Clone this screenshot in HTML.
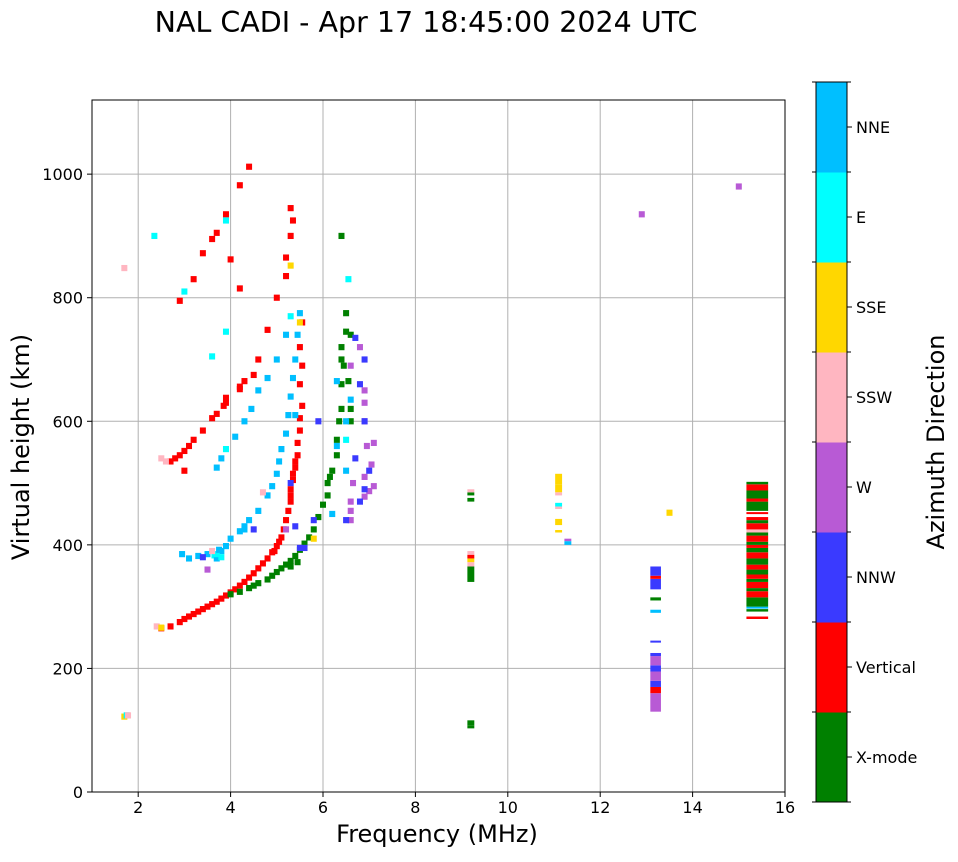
<!DOCTYPE html>
<html><head><meta charset="utf-8"><style>
body{margin:0;background:#fff;font-family:"Liberation Sans","DejaVu Sans",sans-serif;}
svg text{font-family:"DejaVu Sans","Liberation Sans",sans-serif;}
</style></head><body>
<svg id="c" width="958" height="857" viewBox="0 0 958 857" xmlns="http://www.w3.org/2000/svg">
<text x="426" y="32" font-size="28.5" text-anchor="middle">NAL CADI - Apr 17 18:45:00 2024 UTC</text>
<g id="grid"></g><g id="marks"></g><g id="axes"></g><g id="cbar"></g>
<text x="437" y="842" font-size="24" text-anchor="middle">Frequency (MHz)</text>
<text transform="translate(29,447) rotate(-90)" font-size="24" text-anchor="middle">Virtual height (km)</text>
<text transform="translate(944,442) rotate(-90)" font-size="24" text-anchor="middle">Azimuth Direction</text>
</svg>
<script>
const xTicks=[2,4,6,8,10,12,14,16];
const yTicks=[0,200,400,600,800,1000];
const categories=["X-mode","Vertical","NNW","W","SSW","SSE","E","NNE"];
const catColors=["#008000","#ff0000","#3a3aff","#b85ad5","#ffb6c1","#ffd700","#00ffff","#00bfff"];
// traces: [freq, height, colorIndex]
const traceO=[[2.5,265,1],[2.7,268,1],[2.9,275,1],[3.0,280,1],[3.1,284,1],[3.2,288,1],[3.3,292,1],[3.4,296,1],[3.5,300,1],[3.6,304,1],[3.7,308,1],[3.8,313,1],[3.9,318,1],[4.0,323,1],[4.1,328,1],[4.2,334,1],[4.3,340,1],[4.4,347,1],[4.5,354,1],[4.6,362,1],[4.7,370,1],[4.8,378,1],[4.9,388,1],[5.0,398,1],[5.1,412,1],[5.15,425,1],[5.2,440,1],[5.25,455,1],[5.3,470,1],[5.3,490,1],[5.35,505,1],[5.4,525,1],[5.45,545,1],[5.45,565,1],[5.5,585,1],[5.5,605,1],[5.55,625,1],[5.5,660,1],[5.55,690,1],[5.5,720,1],[5.55,760,1],[5.3,480,1],[5.35,515,1],[5.4,535,1],[4.95,390,1],[5.05,405,1]];
const traceX=[[4.0,320,0],[4.2,324,0],[4.4,330,0],[4.5,334,0],[4.6,338,0],[4.8,344,0],[4.9,350,0],[5.0,356,0],[5.1,362,0],[5.2,368,0],[5.3,374,0],[5.4,382,0],[5.5,392,0],[5.6,402,0],[5.7,412,0],[5.8,425,0],[5.9,445,0],[6.0,465,0],[6.1,480,0],[6.1,500,0],[6.2,520,0],[6.3,545,0],[6.3,570,0],[6.35,600,0],[6.4,620,0],[6.4,660,0],[6.45,690,0],[6.4,720,0],[6.5,745,0],[6.5,775,0],[6.6,740,0],[6.55,665,0],[6.6,620,0],[6.6,600,0],[6.4,900,0],[5.3,365,0],[5.45,372,0],[6.15,510,0],[6.4,700,0]];
const traceO2=[[2.7,535,1],[2.8,540,1],[2.9,545,1],[3.0,552,1],[3.1,560,1],[3.2,570,1],[3.4,585,1],[3.6,605,1],[3.7,612,1],[3.85,625,1],[3.9,638,1],[4.2,652,1],[4.3,665,1],[4.5,675,1],[4.6,700,1],[4.8,748,1],[5.0,800,1],[5.2,835,1],[5.2,865,1],[5.3,900,1],[5.35,925,1],[5.3,945,1],[2.9,795,1],[3.2,830,1],[3.4,872,1],[3.6,895,1],[3.7,905,1],[3.9,935,1],[4.2,982,1],[4.4,1012,1],[4.2,815,1],[4.0,862,1],[3.0,520,1],[3.9,630,1],[4.2,656,1]];
const traceC=[[2.95,385,7],[3.1,378,7],[3.3,382,7],[3.5,385,7],[3.65,383,6],[3.7,378,7],[3.8,390,7],[3.9,398,7],[4.0,410,7],[4.2,422,7],[4.3,430,7],[4.4,440,7],[4.6,455,7],[4.8,480,7],[4.9,495,7],[5.0,515,7],[5.05,535,7],[5.1,555,7],[5.2,580,7],[5.25,610,7],[5.3,640,7],[5.35,670,7],[5.4,700,7],[5.45,740,7],[5.5,775,7],[3.7,525,7],[3.8,540,7],[3.9,555,6],[4.1,575,7],[4.3,600,7],[4.45,620,7],[4.6,650,7],[4.8,670,7],[5.0,700,7],[5.2,740,7],[5.3,770,6],[3.9,745,6],[3.6,705,6],[3.9,925,6],[3.0,810,6],[2.35,900,6],[6.55,830,6],[6.5,570,6],[6.3,560,7],[6.5,600,7],[6.3,665,7],[6.6,635,7],[6.2,450,7],[6.5,520,7],[5.4,610,7],[3.8,380,6],[3.7,385,6],[3.75,392,7],[4.3,425,7]];
const traceW=[[6.6,440,3],[6.6,455,3],[6.6,470,3],[6.9,478,3],[7.0,487,3],[7.1,495,3],[6.9,510,3],[7.05,530,3],[6.95,560,3],[7.1,565,3],[6.9,600,3],[6.9,630,3],[6.9,650,3],[6.6,690,3],[6.8,720,3],[6.65,500,3],[5.2,425,3],[3.5,360,3]];
const traceB=[[6.5,440,2],[6.8,470,2],[6.9,490,2],[6.7,540,2],[6.9,600,2],[7.0,520,2],[6.8,660,2],[6.9,700,2],[5.4,430,2],[5.5,395,2],[5.3,500,2],[5.9,600,2],[5.8,440,2],[5.6,395,2],[6.7,735,2],[4.5,425,2],[3.4,380,2]];
const traceMisc=[[1.7,122,5],[1.75,124,6],[1.78,124,4],[1.7,848,4],[2.5,540,4],[2.6,535,4],[2.4,268,4],[2.5,266,5],[5.3,852,5],[5.5,760,5],[5.8,410,5],[3.6,390,4],[4.7,485,4],[12.9,935,3],[15.0,980,3],[13.5,452,5]];
// columns: [freq, h0, h1, colorIndex]
const columns=[[9.2,103,108,0],[9.2,108,116,0],[9.2,340,365,0],[9.2,365,372,4],[9.2,372,378,5],[9.2,378,384,1],[9.2,384,390,4],[9.2,470,476,0],[9.2,480,485,0],[9.2,485,490,4],[11.1,498,515,5],[11.1,485,498,5],[11.1,480,485,4],[11.1,462,468,6],[11.1,458,462,4],[11.1,432,442,5],[11.1,420,424,5],[11.3,400,406,7],[11.3,406,410,3],[13.2,130,160,3],[13.2,160,170,1],[13.2,170,180,2],[13.2,180,195,3],[13.2,195,205,2],[13.2,205,220,3],[13.2,220,225,2],[13.2,242,245,2],[13.2,290,295,7],[13.2,310,315,0],[13.2,328,345,2],[13.2,345,350,1],[13.2,350,365,2],[15.4,280,284,1],[15.4,292,296,0],[15.4,297,300,7],[15.4,300,315,0],[15.4,315,325,1],[15.4,325,330,0],[15.4,330,340,1],[15.4,340,345,0],[15.4,345,352,1],[15.4,352,360,0],[15.4,360,368,1],[15.4,368,378,0],[15.4,378,388,1],[15.4,388,395,0],[15.4,395,400,1],[15.4,400,405,0],[15.4,405,415,1],[15.4,415,420,0],[15.4,420,425,4],[15.4,425,435,1],[15.4,435,440,0],[15.4,440,445,1],[15.4,450,453,1],[15.4,455,470,0],[15.4,470,475,1],[15.4,475,488,0],[15.4,488,498,1],[15.4,498,502,0]];
const colWidths={"9.2":0.15,"11.1":0.15,"11.3":0.15,"13.2":0.23,"15.4":0.47};
const X0=92,X1=785,Y0=792,Y1=100,FMIN=1,FMAX=16,HMAX=1120;
function xs(f){return X0+(f-FMIN)/(FMAX-FMIN)*(X1-X0);}
function ys(h){return Y0-h/HMAX*(Y0-Y1);}
const NS="http://www.w3.org/2000/svg";
function mk(tag,attrs,parent){const e=document.createElementNS(NS,tag);for(const k in attrs)e.setAttribute(k,attrs[k]);parent.appendChild(e);return e;}
const grid=document.getElementById('grid'),marks=document.getElementById('marks'),axes=document.getElementById('axes'),cbar=document.getElementById('cbar');
xTicks.forEach(t=>{const x=xs(t);
 if(t<16){const l=mk('line',{x1:x,x2:x,y1:Y1,y2:Y0,stroke:'#b0b0b0','stroke-width':1},grid);}
 mk('line',{x1:x,x2:x,y1:Y0,y2:Y0+5,stroke:'#000'},axes);
 const tx=mk('text',{x:x,y:Y0+21,'font-size':16,'text-anchor':'middle'},axes);tx.textContent=t;
 });
yTicks.forEach(t=>{const y=ys(t);
 if(t>0){const l=mk('line',{x1:X0,x2:X1,y1:y,y2:y,stroke:'#b0b0b0','stroke-width':1},grid);}
 mk('line',{x1:X0-5,x2:X0,y1:y,y2:y,stroke:'#000'},axes);
 const tx=mk('text',{x:X0-9,y:y+6,'font-size':16,'text-anchor':'end'},axes);tx.textContent=t;
 });
const frame=mk('rect',{x:X0,y:Y1,width:X1-X0,height:Y0-Y1,fill:'none',stroke:'#000','stroke-width':1},axes);

const pts=[].concat(traceO,traceX,traceO2,traceC,traceW,traceB,traceMisc);
pts.forEach(p=>{const w=xs(p[0]+0.13)-xs(p[0]);const h=ys(0)-ys(10);
 const r=mk('rect',{x:xs(p[0])-w/2,y:ys(p[1])-h/2,width:w,height:h,fill:catColors[p[2]]},marks);
 });
columns.forEach(c=>{const fw=colWidths[String(c[0])]||0.15;const x=xs(c[0]-fw/2);
 const r=mk('rect',{x:x,y:ys(c[2]),width:xs(c[0]+fw/2)-x,height:Math.max(2,ys(c[1])-ys(c[2])),fill:catColors[c[3]]},marks);
 });
const CX=816,CW=31,CT=82,CB=802,n=categories.length,seg=(CB-CT)/n;
categories.forEach((c,i)=>{const y0=CB-(i+1)*seg;
 const r=mk('rect',{x:CX,y:y0,width:CW,height:seg+0.5,fill:catColors[i]},cbar);
 
 const ym=y0+seg/2;mk('line',{x1:CX+CW,x2:CX+CW+5,y1:ym,y2:ym,stroke:'#000'},cbar);
 const t=mk('text',{x:CX+CW+9,y:ym+6,'font-size':16},cbar);t.textContent=c;
 });
for(let i=0;i<=n;i++){const y=CT+i*seg;mk('line',{x1:CX-4,x2:CX,y1:y,y2:y,stroke:'#000'},cbar);mk('line',{x1:CX+CW,x2:CX+CW+4,y1:y,y2:y,stroke:'#000'},cbar);}
mk('rect',{x:CX,y:CT,width:CW,height:CB-CT,fill:'none',stroke:'#000'},cbar);
</script>
</body></html>
